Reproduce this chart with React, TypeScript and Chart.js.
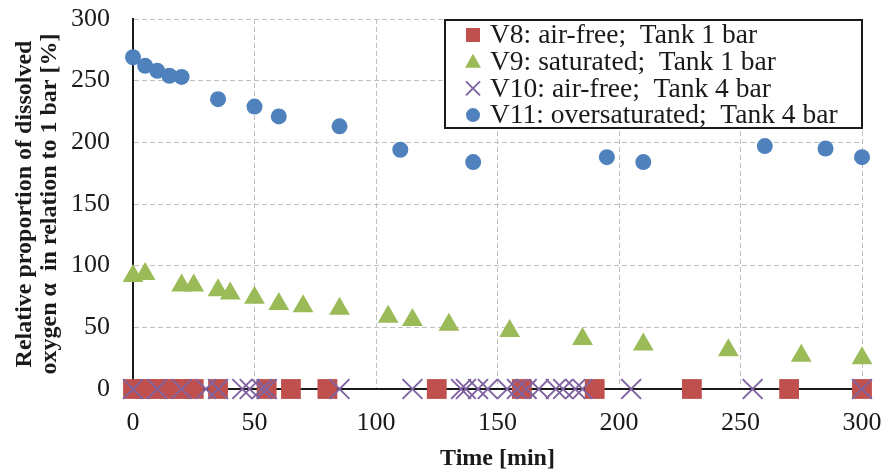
import React, { useEffect, useRef } from "react";
import { Chart, registerables } from "chart.js";

Chart.register(...registerables);

const seriesLabels = [
  "V8: air-free;  Tank 1 bar",
  "V9: saturated;  Tank 1 bar",
  "V10: air-free;  Tank 4 bar",
  "V11: oversaturated;  Tank 4 bar",
];

const v8Time = [0, 5, 10, 15, 20, 25, 35, 55, 65, 80, 125, 160, 190, 230, 270, 300];
const v8Value = [0, 0, 0, 0, 0, 0, 0, 0, 0, 0, 0, 0, 0, 0, 0, 0];

const v9Time = [0, 5, 20, 25, 35, 40, 50, 60, 70, 85, 105, 115, 130, 155, 185, 210, 245, 275, 300];
const v9Value = [91.6, 93.2, 84, 84, 80, 77.5, 74, 69, 67, 65, 58.5, 56, 52, 47, 40.5, 36, 31.5, 27, 25];

const v10Time = [0, 10, 20, 30, 35, 45, 48, 53, 55, 85, 115, 135, 137, 142, 146, 154, 158, 162, 167, 174, 177, 182, 185, 205, 255, 300];
const v10Value = [0, 0, 0, 0, 0, 0, 0, 0, 0, 0, 0, 0, 0, 0, 0, 0, 0, 0, 0, 0, 0, 0, 0, 0, 0, 0];

const v11Time = [0, 5, 10, 15, 20, 35, 50, 60, 85, 110, 140, 195, 210, 260, 285, 300];
const v11Value = [269, 262, 258, 254, 253, 235, 229, 221, 213, 194, 184, 188, 184, 197, 195, 188];

const xTicks = [0, 50, 100, 150, 200, 250, 300];
const yTicks = [0, 50, 100, 150, 200, 250, 300];

const colors = ["#C0504D", "#9BBB59", "#8064A2", "#4F81BD"];
const styles = ["rect", "triangle", "crossRot", "circle"];

const FONT = "'Liberation Serif', 'Times New Roman', serif";

function zip(xs: number[], ys: number[]) {
  return xs.map((x, i) => ({ x, y: ys[i] }));
}

function drawMarker(ctx: CanvasRenderingContext2D, style: string, x: number, y: number, color: string) {
  ctx.save();
  ctx.fillStyle = color;
  ctx.strokeStyle = color;
  ctx.beginPath();
  if (style === "rect") {
    ctx.rect(x - 7, y - 7, 14, 14);
    ctx.fill();
  } else if (style === "triangle") {
    ctx.moveTo(x, y - 8);
    ctx.lineTo(x + 8, y + 6);
    ctx.lineTo(x - 8, y + 6);
    ctx.closePath();
    ctx.fill();
  } else if (style === "crossRot") {
    ctx.lineWidth = 2;
    ctx.moveTo(x - 7, y - 7);
    ctx.lineTo(x + 7, y + 7);
    ctx.moveTo(x + 7, y - 7);
    ctx.lineTo(x - 7, y + 7);
    ctx.stroke();
  } else {
    ctx.arc(x, y, 7, 0, Math.PI * 2);
    ctx.fill();
  }
  ctx.restore();
}

const boxLegend = {
  id: "boxLegend",
  afterDraw(chart: any) {
    const { ctx, chartArea } = chart;
    const w = 417;
    const h = 108;
    const right = chartArea.right;
    const left = right - w;
    const top = chartArea.top + 1;
    ctx.save();
    ctx.fillStyle = "#ffffff";
    ctx.fillRect(left, top, w, h);
    ctx.lineWidth = 2;
    ctx.strokeStyle = "#1a1a1a";
    ctx.strokeRect(left, top, w, h);
    ctx.font = `27.5px ${FONT}`;
    ctx.textBaseline = "middle";
    ctx.textAlign = "left";
    seriesLabels.forEach((label, i) => {
      const y = top + 15 + i * 26.7;
      drawMarker(ctx, styles[i], left + 28, y, colors[i]);
      ctx.fillStyle = "#1a1a1a";
      ctx.fillText(label, left + 45, y + 1);
    });
    ctx.restore();
  },
};

export default function App() {
  const ref = useRef<HTMLCanvasElement | null>(null);

  useEffect(() => {
    if (!ref.current) return;
    const chart = new Chart(ref.current, {
      type: "scatter",
      data: {
        datasets: [
          {
            label: seriesLabels[0],
            data: zip(v8Time, v8Value),
            pointStyle: "rect",
            pointRadius: 14,
            backgroundColor: colors[0],
            borderColor: colors[0],
            borderWidth: 0,
            order: 4,
            clip: false,
          },
          {
            label: seriesLabels[1],
            data: zip(v9Time, v9Value),
            pointStyle: "triangle",
            pointRadius: 12,
            backgroundColor: colors[1],
            borderColor: colors[1],
            borderWidth: 0,
            order: 3,
            clip: false,
          },
          {
            label: seriesLabels[2],
            data: zip(v10Time, v10Value),
            pointStyle: "crossRot",
            pointRadius: 14,
            backgroundColor: colors[2],
            borderColor: colors[2],
            borderWidth: 2,
            order: 2,
            clip: false,
          },
          {
            label: seriesLabels[3],
            data: zip(v11Time, v11Value),
            pointStyle: "circle",
            pointRadius: 8,
            backgroundColor: colors[3],
            borderColor: colors[3],
            borderWidth: 0,
            order: 1,
            clip: false,
          },
        ] as any,
      },
      options: {
        animation: false,
        responsive: true,
        maintainAspectRatio: false,
        layout: { padding: { top: 19, right: 21, left: 0, bottom: 0 } },
        plugins: {
          legend: { display: false },
          tooltip: { enabled: false },
        },
        scales: {
          x: {
            type: "linear",
            min: 0,
            max: 300,
            afterBuildTicks: (scale: any) => {
              scale.ticks = xTicks.map((v) => ({ value: v }));
            },
            afterFit: (scale: any) => {
              scale.height = 85;
              scale.paddingLeft = 0;
              scale.paddingRight = 0;
            },
            ticks: {
              font: { family: FONT, size: 26 },
              color: "#1a1a1a",
              padding: 19,
              maxRotation: 0,
            },
            grid: { color: "#BFBFBF", lineWidth: 1, drawTicks: false },
            border: { display: true, color: "#1a1a1a", width: 2, dash: [5, 3] },
            title: {
              display: true,
              text: "Time [min]",
              font: { family: FONT, size: 24, weight: "bold" },
              color: "#1a1a1a",
              padding: { top: 4, bottom: 1 },
            },
          },
          y: {
            type: "linear",
            min: 0,
            max: 300,
            afterBuildTicks: (scale: any) => {
              scale.ticks = yTicks.map((v) => ({ value: v }));
            },
            afterFit: (scale: any) => {
              scale.width = 133;
              scale.paddingTop = 0;
              scale.paddingBottom = 0;
            },
            ticks: {
              font: { family: FONT, size: 26 },
              color: "#1a1a1a",
              padding: 23,
            },
            grid: { color: "#BFBFBF", lineWidth: 1, drawTicks: false },
            border: { display: true, color: "#1a1a1a", width: 2, dash: [5, 3] },
            title: {
              display: true,
              text: ["Relative proportion of dissolved", "oxygen \u03b1  in relation to 1 bar [%]"],
              font: { family: FONT, size: 24, weight: "bold", lineHeight: 1.05 },
              color: "#1a1a1a",
              padding: { top: 12, bottom: 0 },
            },
          },
        },
      } as any,
      plugins: [boxLegend],
    });
    return () => chart.destroy();
  }, []);

  return (
    <div style={{ position: "fixed", left: 0, top: 0, width: 883, height: 474, background: "#fff" }}>
      <canvas ref={ref} />
    </div>
  );
}
